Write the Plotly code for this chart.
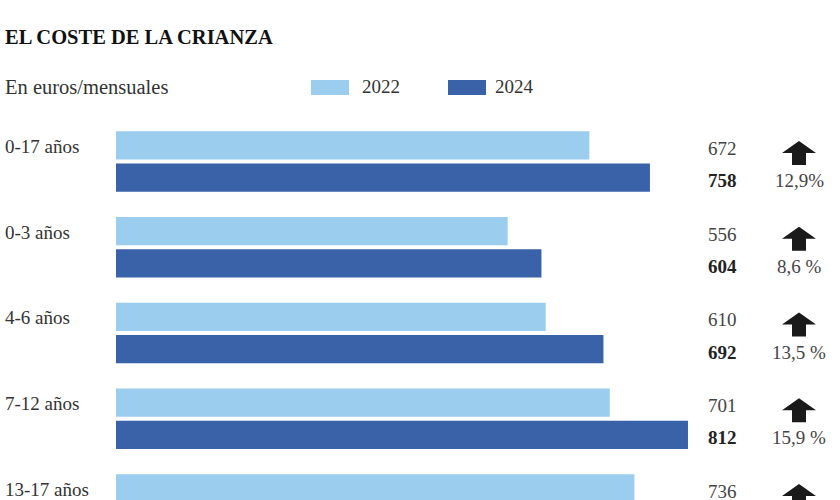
import plotly.graph_objects as go

# --- DATOS ---
grupos = ['0-17 años', '0-3 años', '4-6 años', '7-12 años', '13-17 años']
coste_2022 = [672, 556, 610, 701, 736]
coste_2024 = [758, 604, 692, 812, 850]
variacion = ['12,9%', '8,6 %', '13,5 %', '15,9 %', '15,5 %']

AZUL_CLARO = '#9BCDEF'
AZUL_OSCURO = '#3A62A8'
FUENTE = 'Liberation Serif'

W, H = 840, 500
PX_X = 0.7044      # px por euro
X0_PX = 116        # donde empiezan las barras
PASO_PX = 85.75    # separación entre grupos
G0_PX = 161.5      # centro del primer grupo

pos = list(range(len(grupos)))

fig = go.Figure()
fig.add_trace(go.Bar(y=pos, x=coste_2022, orientation='h', marker_color=AZUL_CLARO,
                     marker_line_width=0, name='2022', hoverinfo='skip'))
fig.add_trace(go.Bar(y=pos, x=coste_2024, orientation='h', marker_color=AZUL_OSCURO,
                     marker_line_width=0, name='2024', hoverinfo='skip'))

off = 0.1875  # desplazamiento de cada barra respecto al centro del grupo

anotaciones = [
    dict(text='<b>EL COSTE DE LA CRIANZA</b>', x=3 / W, y=1 - 37 / H, xanchor='left',
         font=dict(size=20.5, color='#111')),
    dict(text='En euros/mensuales', x=3 / W, y=1 - 87 / H, xanchor='left',
         font=dict(size=20.5, color='#333')),
    dict(text='2022', x=360 / W, y=1 - 87 / H, xanchor='left', font=dict(size=19, color='#333')),
    dict(text='2024', x=493 / W, y=1 - 87 / H, xanchor='left', font=dict(size=19, color='#333')),
]
for a in anotaciones:
    a.update(xref='paper', yref='paper', yanchor='middle', showarrow=False)

for i, g in enumerate(grupos):
    anotaciones.append(dict(text=g, x=3 / W, xref='paper', y=i - off, yref='y', xanchor='left',
                            yshift=-1, showarrow=False, font=dict(size=19, color='#333')))
    anotaciones.append(dict(text=str(coste_2022[i]), x=739 / W, xref='paper', y=i - off, yref='y',
                            xanchor='right', yshift=-3, showarrow=False,
                            font=dict(size=19, color='#444')))
    anotaciones.append(dict(text='<b>%d</b>' % coste_2024[i], x=739 / W, xref='paper', y=i + off,
                            yref='y', xanchor='right', yshift=-3, showarrow=False,
                            font=dict(size=19, color='#222')))
    anotaciones.append(dict(text=variacion[i], x=799 / W, xref='paper', y=i + off, yref='y',
                            xanchor='center', yshift=-3, showarrow=False,
                            font=dict(size=19, color='#444')))

# flechas hacia arriba (en píxeles alrededor del ancla)
flecha = 'M0,12 L17,0 L7,0 L7,-12 L-7,-12 L-7,0 L-17,0 Z'
formas = [
    dict(type='rect', xref='paper', yref='paper', x0=311 / W, x1=349 / W,
         y0=1 - 95 / H, y1=1 - 80 / H, fillcolor=AZUL_CLARO, line_width=0),
    dict(type='rect', xref='paper', yref='paper', x0=448 / W, x1=486 / W,
         y0=1 - 95 / H, y1=1 - 80 / H, fillcolor=AZUL_OSCURO, line_width=0),
]
for i in pos:
    formas.append(dict(type='path', path=flecha, xref='paper', yref='y',
                       xsizemode='pixel', ysizemode='pixel', xanchor=799 / W, yanchor=i - 0.1,
                       fillcolor='#1a1a1a', line_width=0))

fig.update_layout(
    width=W, height=H,
    margin=dict(l=0, r=0, t=0, b=0),
    plot_bgcolor='white', paper_bgcolor='white',
    barmode='group', bargap=0.25, bargroupgap=0.125,
    showlegend=False,
    font=dict(family=FUENTE),
    xaxis=dict(range=[-X0_PX / PX_X, (W - X0_PX) / PX_X], visible=False, fixedrange=True),
    yaxis=dict(range=[(H - G0_PX) / PASO_PX, -G0_PX / PASO_PX], visible=False, fixedrange=True),
    annotations=anotaciones,
    shapes=formas,
)

# sin el margen por defecto del <body>, para que la figura ocupe toda la ventana
fig.write_html('out.html', config={'displayModeBar': False},
               post_script="document.body.style.margin='0';document.body.style.overflow='hidden';")
